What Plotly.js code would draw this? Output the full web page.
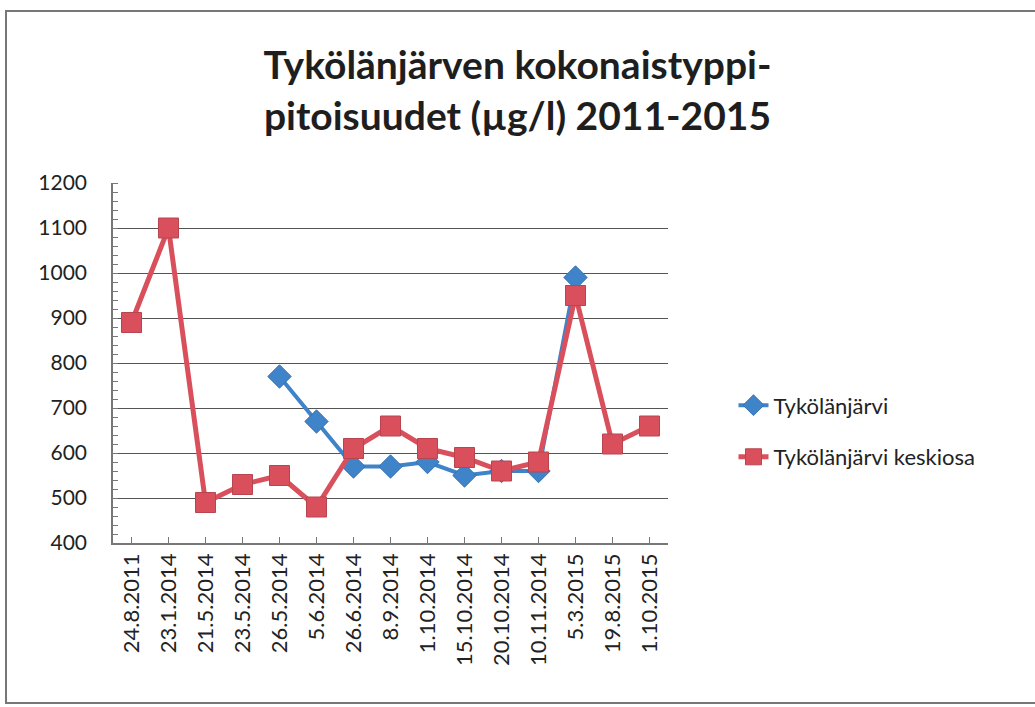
<!DOCTYPE html>
<html>
<head>
<meta charset="utf-8">
<script src="https://cdn.plot.ly/plotly-3.0.1.min.js"></script>
<style>
  body { margin: 0; background: #fff; }
  #chart { width: 1035px; height: 707px; }
  #frame { position: absolute; left: 5px; top: 10px; width: 1040px; height: 690px;
           border: 2px solid #777; pointer-events: none; }
</style>
</head>
<body>
<div id="chart"></div>
<div id="frame"></div>
<script>
// sampling dates (category axis)
const dates = ['24.8.2011', '23.1.2014', '21.5.2014', '23.5.2014', '26.5.2014', '5.6.2014',
  '26.6.2014', '8.9.2014', '1.10.2014', '15.10.2014', '20.10.2014', '10.11.2014',
  '5.3.2015', '19.8.2015', '1.10.2015'];

// total nitrogen, µg/l
const tykolanjarvi = [null, null, null, null, 770, 670, 570, 570, 580, 550, 560, 560, 990, null, null];
const keskiosa = [890, 1100, 490, 530, 550, 480, 610, 660, 610, 590, 560, 580, 950, 620, 660];

const yTicks = [400, 500, 600, 700, 800, 900, 1000, 1100, 1200];

const blue = '#3f83c9';
const red = '#d9505c';

const traces = [
  {
    x: dates, y: tykolanjarvi, name: 'Tykölänjärvi',
    type: 'scatter', mode: 'lines+markers', legendgroup: 'a',
    line: { color: blue, width: 4 },
    marker: { symbol: 'diamond', size: 18, color: blue, line: { color: '#3673b3', width: 1 } }
  },
  {
    x: dates, y: keskiosa, name: 'Tykölänjärvi keskiosa',
    type: 'scatter', mode: 'lines+markers', legendgroup: 'b',
    line: { color: red, width: 5 },
    marker: { symbol: 'square', size: 20, color: red, line: { color: '#b84450', width: 1 } }
  }
];

const layout = {
  width: 1035,
  height: 707,
  paper_bgcolor: '#fff',
  plot_bgcolor: '#fff',
  margin: { l: 113, r: 367, t: 183, b: 164 },
  font: { family: 'Lato, "Open Sans", sans-serif', color: '#222' },
  title: {
    text: '<b>Tykölänjärven kokonaistyppi-<br>pitoisuudet (µg/l) 2011-2015</b>',
    font: { size: 39, color: '#1e1e1e' },
    xref: 'container', x: 0.5, xanchor: 'center',
    yref: 'container', y: 0.888, yanchor: 'top'
  },
  xaxis: {
    type: 'category',
    range: [-0.5, dates.length - 0.5],
    tickangle: -90,
    tickfont: { size: 22 },
    showline: true, linecolor: '#777', linewidth: 1.5,
    ticks: 'inside', ticklen: 6, tickcolor: '#777',
    showgrid: false
  },
  yaxis: {
    range: [400, 1200],
    tickvals: yTicks,
    tickfont: { size: 21 },
    ticklabelstandoff: 20,
    showline: true, linecolor: '#777', linewidth: 1.5,
    ticks: '',
    showgrid: true, gridcolor: '#555', gridwidth: 1,
    zeroline: false,
    minor: { dtick: 20, ticks: 'inside', ticklen: 5, tickcolor: '#777', showgrid: false }
  },
  legend: {
    x: 1.118, xanchor: 'left', y: 0.31, yanchor: 'middle',
    font: { size: 22, color: '#222' },
    traceorder: 'grouped', tracegroupgap: 20,
    bgcolor: 'rgba(0,0,0,0)'
  },
  showlegend: true
};

Plotly.newPlot('chart', traces, layout, { displayModeBar: false });
</script>
</body>
</html>
